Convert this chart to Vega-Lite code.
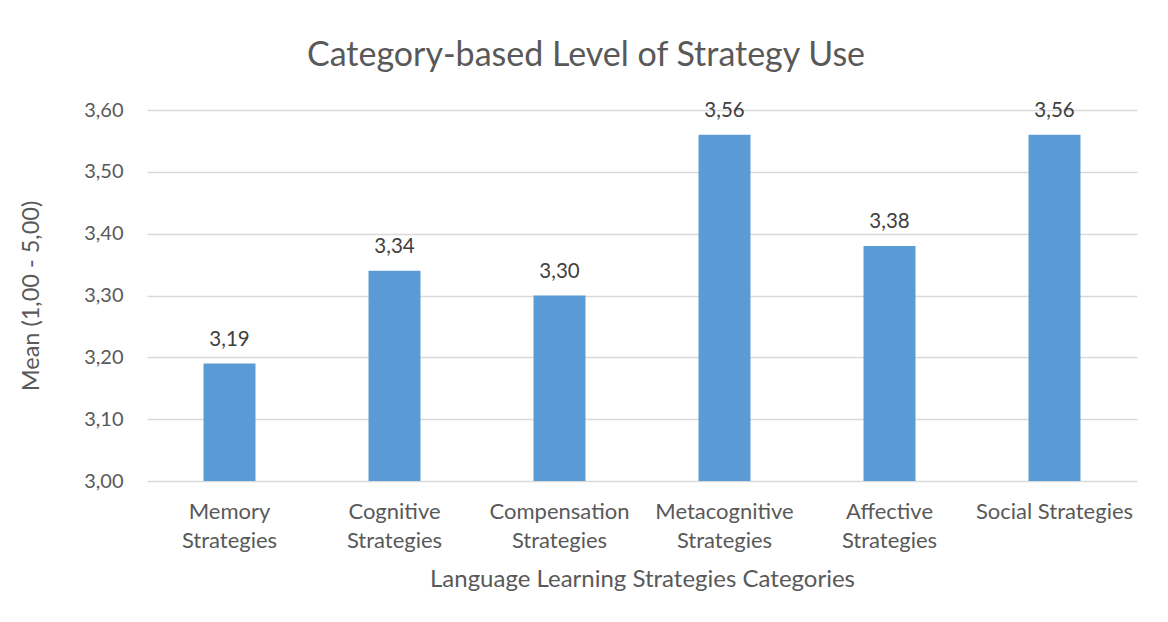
{
  "$schema": "https://vega.github.io/schema/vega-lite/v6.json",
  "width": 990,
  "height": 371,
  "autosize": {"type": "none"},
  "padding": {"left": 147, "top": 110, "right": 31, "bottom": 141},
  "background": "white",
  "config": {
    "locale": {"number": {"decimal": ",", "thousands": ".", "grouping": [3], "currency": ["", " €"]}},
    "view": {"stroke": null},
    "font": "Lato"
  },
  "title": {
    "text": "Category-based Level of Strategy Use",
    "fontSize": 34,
    "fontWeight": "normal",
    "font": "Lato",
    "color": "#595959",
    "anchor": "middle",
    "dx": -56,
    "offset": 27
  },
  "data": {
    "values": [
      {"category": "Memory Strategies", "mean": 3.19},
      {"category": "Cognitive Strategies", "mean": 3.34},
      {"category": "Compensation Strategies", "mean": 3.30},
      {"category": "Metacognitive Strategies", "mean": 3.56},
      {"category": "Affective Strategies", "mean": 3.38},
      {"category": "Social Strategies", "mean": 3.56}
    ]
  },
  "encoding": {
    "x": {
      "field": "category",
      "type": "nominal",
      "sort": null,
      "scale": {"paddingInner": 0.685, "paddingOuter": 0.3425},
      "axis": {
        "title": "Language Learning Strategies Categories",
        "titleFontSize": 24,
        "titleFont": "Lato",
        "titleFontWeight": "normal",
        "titleColor": "#595959",
        "titlePadding": 16,
        "labelAngle": 0,
        "labelFontSize": 22,
        "labelFont": "Lato",
        "labelColor": "#595959",
        "labelLineHeight": 29,
        "labelPadding": 20,
        "labelExpr": "datum.label == 'Social Strategies' ? datum.label : split(datum.label, ' ')",
        "ticks": false,
        "domain": false,
        "grid": false
      }
    }
  },
  "layer": [
    {
      "mark": {"type": "bar", "color": "#5b9bd5"},
      "encoding": {
        "y": {
          "field": "mean",
          "type": "quantitative",
          "scale": {"domain": [3, 3.6], "zero": false, "nice": false},
          "axis": {
            "title": "Mean (1,00 - 5,00)",
            "titleFontSize": 23.5,
            "titleFont": "Lato",
            "titleFontWeight": "normal",
            "titleColor": "#595959",
            "titlePadding": 40,
            "values": [3, 3.1, 3.2, 3.3, 3.4, 3.5, 3.6],
            "format": ".2f",
            "labelFontSize": 20,
            "labelFont": "Lato",
            "labelColor": "#595959",
            "labelPadding": 24,
            "ticks": false,
            "domain": false,
            "grid": true,
            "gridColor": "#d9d9d9",
            "gridWidth": 1.5
          }
        },
        "y2": {"datum": 3}
      }
    },
    {
      "mark": {"type": "text", "baseline": "alphabetic", "dy": -18, "fontSize": 20.5, "font": "Lato", "color": "#404040"},
      "encoding": {
        "y": {"field": "mean", "type": "quantitative"},
        "text": {"field": "mean", "type": "quantitative", "format": ".2f"}
      }
    }
  ]
}
